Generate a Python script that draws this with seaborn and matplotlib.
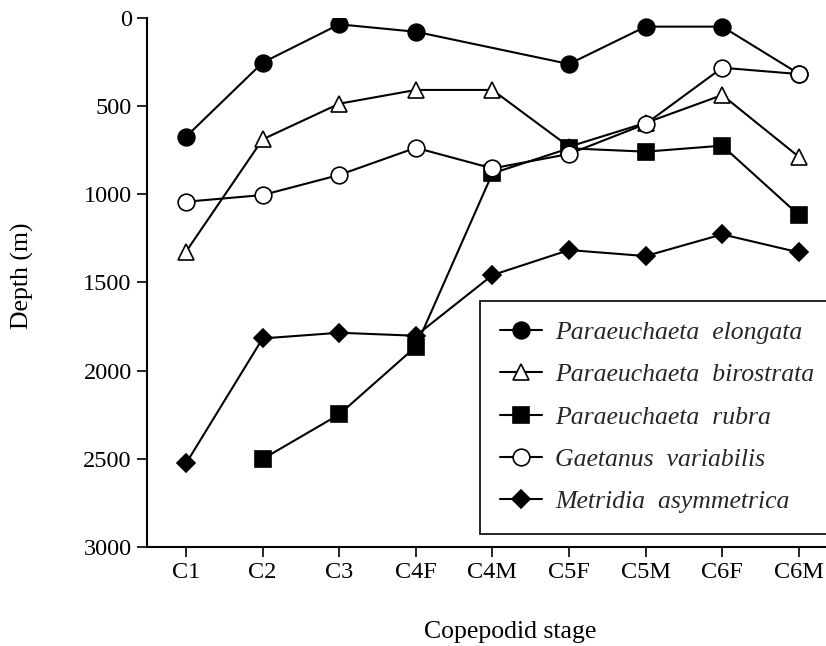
import matplotlib
matplotlib.use("Agg")
import matplotlib.pyplot as plt
import seaborn as sns
import numpy as np
import pandas as pd

stages = ["C1", "C2", "C3", "C4F", "C4M", "C5F", "C5M", "C6F", "C6M"]
series_names = ["Paraeuchaeta  elongata", "Paraeuchaeta  birostrata",
                "Paraeuchaeta  rubra", "Gaetanus  variabilis",
                "Metridia  asymmetrica"]
elongata = [673, 253, 36, 78, np.nan, 261, 49, 49, 316]
birostrata = [1325, 688, 486, 408, 408, 730, 595, 437, 787]
rubra = [np.nan, 2501, 2248, 1864, 881, 739, 758, 724, 1117]
gaetanus = [1042, 1004, 890, 736, 853, 771, 601, 282, 318]
metridia = [2526, 1817, 1785, 1802, 1458, 1316, 1350, 1227, 1329]
yticks = [0, 500, 1000, 1500, 2000, 2500, 3000]

sns.set_theme(style="ticks")
plt.rcParams["font.family"] = ["Liberation Serif", "DejaVu Serif"]

fig = plt.figure(figsize=(8.26, 6.46), dpi=100)
ax = fig.add_axes([147 / 826, 1 - 547 / 646, (826 - 147) / 826, (547 - 18) / 646])

styles = [
    dict(marker="o", mfc="black", zorder=3),
    dict(marker="^", mfc="white", zorder=4),
    dict(marker="s", mfc="black", zorder=5),
    dict(marker="o", mfc="white", zorder=6),
    dict(marker="D", mfc="black", zorder=2),
]
msizes = [12, 12, 11, 12, 9]
all_vals = [elongata, birostrata, rubra, gaetanus, metridia]

for name, vals, st, ms in zip(series_names, all_vals, styles, msizes):
    df = pd.DataFrame({"x": np.arange(len(stages)), "y": vals}).dropna()
    sns.lineplot(data=df, x="x", y="y", ax=ax, color="black", lw=1.5,
                 marker=st["marker"], mfc=st["mfc"], mec="black", mew=1.2,
                 ms=ms, zorder=st["zorder"], label=name)

ax.set_xlim(-0.51, 8.355)
ax.set_ylim(3000, 0)
ax.set_yticks(yticks)
ax.set_yticklabels([str(v) for v in yticks])
ax.set_xticks(range(len(stages)))
ax.set_xticklabels(stages)
ax.tick_params(axis="both", labelsize=17.5, length=7, width=1.2, color="black",
               direction="out", pad=4, labelcolor="black")
for s in ["top", "right"]:
    ax.spines[s].set_visible(False)
for s in ["left", "bottom"]:
    ax.spines[s].set_color("black")
    ax.spines[s].set_linewidth(1.5)

ax.set_xlabel("Copepodid stage", fontsize=18.5, color="black", va="center")
ax.set_ylabel("Depth (m)", fontsize=18.5, color="black", va="center")
ax.xaxis.set_label_coords(0.535, -0.161)
ax.yaxis.set_label_coords(-0.184, 0.512)

leg = ax.legend(loc="lower left", bbox_to_anchor=(0.49, 0.025, 0.6, 0.448),
                mode="expand", borderaxespad=0, frameon=True, fancybox=False,
                edgecolor="black", framealpha=1,
                prop={"style": "italic", "size": 18.5},
                handlelength=1.63, handletextpad=0.5, labelspacing=0.75,
                borderpad=0.8)
leg.get_frame().set_linewidth(1.2)

fig.savefig("out.png", dpi=100)
